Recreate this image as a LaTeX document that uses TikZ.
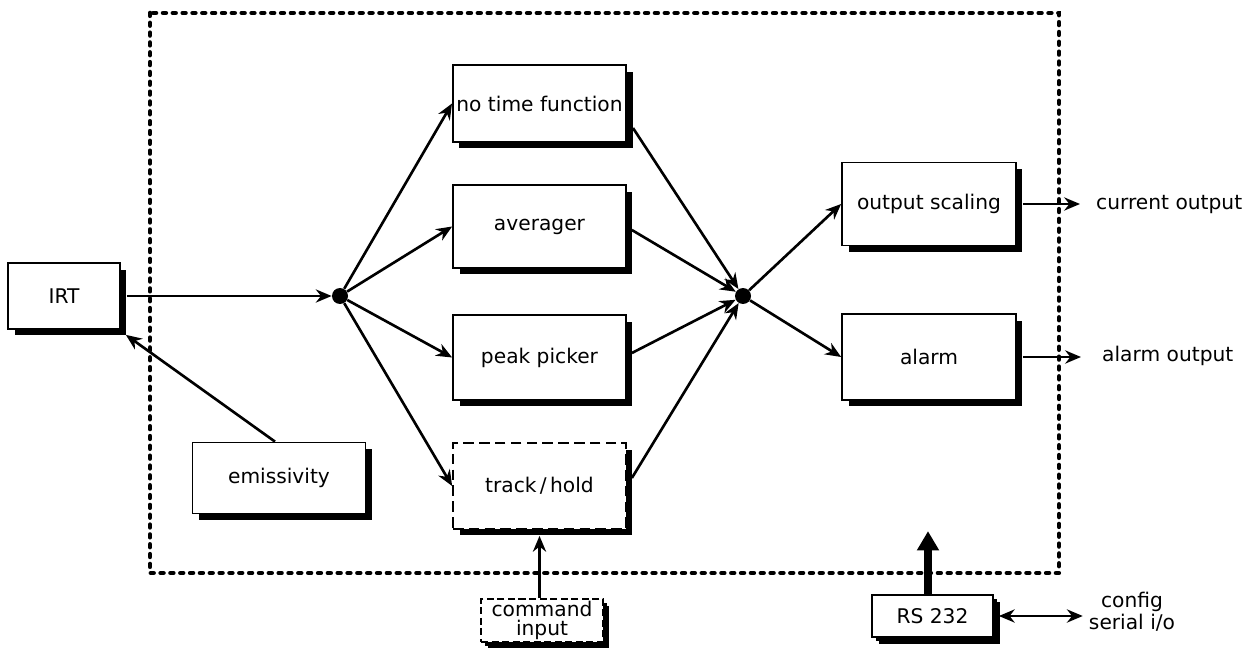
\documentclass[tikz,border=0pt]{standalone}
\usepackage{fontspec}
\setmainfont{DejaVu Sans}
\usetikzlibrary{arrows.meta,shadows}

\tikzset{
  blk/.style={draw, fill=white, line width=1pt, inner sep=2pt, font=\fontsize{11.5}{13}\selectfont,
    general shadow={fill=black, shadow xshift=0.13cm, shadow yshift=-0.13cm}},
  smallblk/.style={blk, general shadow={fill=black, shadow xshift=0.08cm, shadow yshift=-0.08cm}},
  dot/.style={circle, fill=black, inner sep=0pt, minimum size=0.32cm},
  flow/.style={line width=1.5pt, -{Stealth[length=9pt,width=7.5pt]}},
  lbl/.style={font=\fontsize{11.5}{13}\selectfont, align=center},
}

\begin{document}
\begin{tikzpicture}[x=0.02cm, y=-0.02cm]
  \useasboundingbox (0,0) rectangle (1253,648);

  % instrument boundary
  \draw[line width=2.6pt, line cap=round, dash pattern=on 1.6pt off 4pt]
    (150,13) rectangle (1059,573);

  % input side
  \node[blk, minimum width=2.24cm, minimum height=1.32cm] (irt) at (64,296) {IRT};
  \node[blk, minimum width=3.46cm, minimum height=1.42cm] (emis) at (279,478) {emissivity};
  \node[dot] (split) at (340,296) {};

  % time functions
  \node[blk, minimum width=3.46cm, minimum height=1.54cm] (ntf) at (539.5,103.5) {no time function};
  \node[blk, minimum width=3.46cm, minimum height=1.66cm] (avg) at (539.5,226.5) {averager};
  \node[blk, minimum width=3.46cm, minimum height=1.70cm] (peak) at (539.5,357.5) {peak picker};
  \node[blk, dash pattern=on 6pt off 3pt, minimum width=3.46cm, minimum height=1.72cm] (track) at (539.5,486) {track\,/\,hold};
  \node[smallblk, dash pattern=on 4pt off 2pt, minimum width=2.44cm, minimum height=0.86cm,
    inner sep=0pt, align=center, font=\fontsize{11.5}{10.5}\selectfont] (cmd) at (542,620.5) {command\\input};
  \node[dot] (merge) at (743,296) {};

  % outputs
  \node[blk, minimum width=3.48cm, minimum height=1.66cm] (osc) at (929,204) {output scaling};
  \node[blk, minimum width=3.48cm, minimum height=1.72cm] (alarm) at (929,357) {alarm};
  \node[lbl, anchor=west] (cur) at (1090,205) {current output};
  \node[lbl, anchor=west] (alo) at (1096,356) {alarm output};
  \node[smallblk, minimum width=2.42cm, minimum height=0.84cm] (rs) at (932.5,616) {RS 232};
  \node[lbl, font=\fontsize{11.5}{12.5}\selectfont] (cfg) at (1132,612) {config\\serial i/o};

  % connectors
  \draw[flow] ([xshift=0.12cm]irt.east) -- (split);
  \draw[flow] ([xshift=-0.08cm]emis.north) -- ([xshift=0.1cm, yshift=-0.1cm]irt.south east);
  \foreach \b in {ntf,avg,peak,track}
    \draw[flow] (split) -- (\b.west);
  \draw[flow] ([xshift=0.12cm, yshift=-0.49cm]ntf.east) -- (merge);
  \draw[flow] ([xshift=0.1cm, yshift=-0.07cm]avg.east) -- (merge);
  \draw[flow] ([xshift=0.1cm, yshift=0.09cm]peak.east) -- (merge);
  \draw[flow] ([xshift=0.1cm, yshift=0.16cm]track.east) -- (merge);
  \draw[flow] (track.south |- cmd.north) -- ([yshift=-0.12cm]track.south);
  \draw[flow] (merge) -- (osc.west);
  \draw[flow] (merge) -- (alarm.west);
  \draw[flow] ([xshift=0.12cm]osc.east) -- ([xshift=-0.2cm]osc.east -| cur.west);
  \draw[flow] ([xshift=0.12cm]alarm.east) -- ([xshift=-0.3cm]alarm.east -| alo.west);
  \draw[line width=1.5pt, {Stealth[length=9pt,width=7.5pt]}-{Stealth[length=9pt,width=7.5pt]}]
    ([xshift=0.1cm]rs.east) -- (cfg.west |- rs.east);
  \draw[line width=4.5pt, -{Triangle[length=11pt,width=12pt]}]
    ([xshift=-0.09cm]rs.north) -- ++(0,-63);
\end{tikzpicture}
\end{document}
